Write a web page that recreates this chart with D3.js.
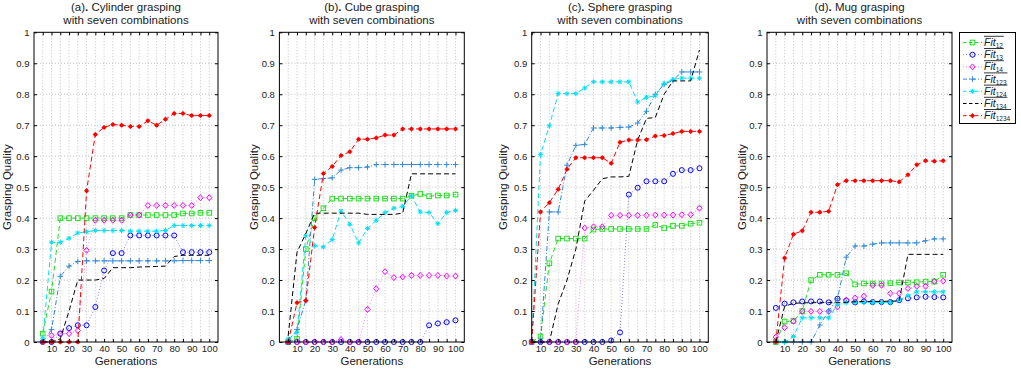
<!DOCTYPE html>
<html>
<head>
<meta charset="utf-8">
<script src="https://cdn.jsdelivr.net/npm/d3@7"></script>
<style>
  body { margin: 0; background: #fff; }
  svg { display: block; }
  text { font-family: "Liberation Sans", Arial, Helvetica, sans-serif; fill: #1a1a1a; }
</style>
</head>
<body>
<div id="chart"></div>
<script>
// generations on the x axis
const generations = [5, 10, 15, 20, 25, 30, 35, 40, 45, 50, 55, 60, 65, 70, 75, 80, 85, 90, 95, 100];
const xTicks = [5, 10, 15, 20, 25, 30, 35, 40, 45, 50, 55, 60, 65, 70, 75, 80, 85, 90, 95, 100];
const xTickLabels = [10, 20, 30, 40, 50, 60, 70, 80, 90, 100];
const yTicks = [0, 0.1, 0.2, 0.3, 0.4, 0.5, 0.6, 0.7, 0.8, 0.9, 1];

const panelLetters = ["(a)", "(b)", "(c)", "(d)"];
const panelObjects = ["Cylinder grasping", "Cube grasping", "Sphere grasping", "Mug grasping"];

const seriesSubs = ["12", "13", "14", "123", "124", "134", "1234"];

// (a) cylinder
const cyl12   = [0.027, 0.163, 0.40, 0.40, 0.40, 0.40, 0.40, 0.40, 0.40, 0.40, 0.41, 0.41, 0.41, 0.41, 0.41, 0.41, 0.415, 0.415, 0.417, 0.417];
const cyl13   = [0, 0, 0.027, 0.045, 0.054, 0.054, 0.113, 0.231, 0.287, 0.287, 0.344, 0.344, 0.344, 0.344, 0.344, 0.344, 0.29, 0.29, 0.29, 0.29];
const cyl14   = [0, 0.021, 0.027, 0.027, 0.037, 0.296, 0.393, 0.393, 0.393, 0.393, 0.41, 0.41, 0.441, 0.441, 0.441, 0.441, 0.441, 0.441, 0.466, 0.466];
const cyl123  = [0, 0.04, 0.212, 0.245, 0.26, 0.262, 0.262, 0.262, 0.262, 0.262, 0.262, 0.262, 0.262, 0.262, 0.262, 0.262, 0.263, 0.263, 0.263, 0.263];
const cyl124  = [0.01, 0.322, 0.322, 0.335, 0.352, 0.356, 0.36, 0.36, 0.36, 0.36, 0.358, 0.358, 0.358, 0.358, 0.36, 0.376, 0.376, 0.376, 0.376, 0.376];
const cyl134  = [0, 0, 0.01, 0.1, 0.2, 0.2, 0.2, 0.205, 0.24, 0.24, 0.24, 0.242, 0.243, 0.244, 0.245, 0.276, 0.28, 0.28, 0.28, 0.28];
const cyl1234 = [0, 0, 0, 0, 0, 0.488, 0.67, 0.693, 0.702, 0.70, 0.696, 0.696, 0.714, 0.70, 0.719, 0.738, 0.738, 0.731, 0.731, 0.731];

// (b) cube
const cube12   = [0, 0.01, 0.3, 0.4, 0.432, 0.463, 0.463, 0.463, 0.463, 0.463, 0.463, 0.463, 0.463, 0.463, 0.472, 0.478, 0.471, 0.473, 0.473, 0.476];
const cube13   = [0, 0, 0, 0, 0, 0, 0, 0, 0, 0, 0, 0, 0, 0, 0, 0, 0.054, 0.06, 0.064, 0.07];
const cube14   = [0, 0, 0, 0, 0, 0, 0.008, 0, 0, 0.105, 0.172, 0.227, 0.208, 0.21, 0.215, 0.215, 0.215, 0.215, 0.213, 0.213];
const cube123  = [0, 0.04, 0.135, 0.525, 0.528, 0.53, 0.555, 0.563, 0.563, 0.565, 0.573, 0.573, 0.573, 0.573, 0.573, 0.573, 0.573, 0.573, 0.573, 0.573];
const cube124  = [0.01, 0.03, 0.343, 0.311, 0.307, 0.331, 0.423, 0.38, 0.32, 0.367, 0.393, 0.418, 0.432, 0.438, 0.472, 0.42, 0.418, 0.382, 0.418, 0.425];
const cube134  = [0.02, 0.29, 0.35, 0.416, 0.416, 0.416, 0.416, 0.416, 0.416, 0.412, 0.412, 0.412, 0.412, 0.416, 0.543, 0.543, 0.543, 0.543, 0.543, 0.543];
const cube1234 = [0, 0.127, 0.133, 0.37, 0.544, 0.567, 0.602, 0.614, 0.655, 0.655, 0.659, 0.668, 0.668, 0.688, 0.688, 0.688, 0.688, 0.688, 0.688, 0.688];

// (c) sphere
const sph12   = [0, 0.018, 0.254, 0.334, 0.334, 0.334, 0.334, 0.363, 0.365, 0.365, 0.365, 0.365, 0.365, 0.365, 0.378, 0.368, 0.375, 0.375, 0.382, 0.385];
const sph13   = [0, 0, 0, 0, 0, 0, 0, 0, 0, 0.005, 0.031, 0.476, 0.498, 0.519, 0.519, 0.519, 0.543, 0.555, 0.555, 0.561];
const sph14   = [0, 0, 0, 0, 0, 0, 0.368, 0.372, 0.372, 0.409, 0.409, 0.409, 0.409, 0.409, 0.41, 0.41, 0.41, 0.411, 0.411, 0.432];
const sph123  = [0, 0, 0.42, 0.42, 0.571, 0.635, 0.638, 0.691, 0.691, 0.691, 0.693, 0.694, 0.707, 0.745, 0.8, 0.832, 0.845, 0.872, 0.872, 0.872];
const sph124  = [0, 0.606, 0.698, 0.802, 0.802, 0.802, 0.82, 0.84, 0.84, 0.84, 0.84, 0.84, 0.775, 0.79, 0.795, 0.835, 0.848, 0.852, 0.852, 0.852];
const sph134  = [0, 0, 0, 0.123, 0.2, 0.3, 0.455, 0.49, 0.527, 0.533, 0.533, 0.535, 0.652, 0.722, 0.725, 0.8, 0.843, 0.843, 0.843, 0.943];
const sph1234 = [0, 0.42, 0.45, 0.493, 0.558, 0.595, 0.595, 0.595, 0.595, 0.577, 0.645, 0.652, 0.652, 0.653, 0.665, 0.667, 0.673, 0.68, 0.68, 0.68];

// (d) mug
const mug12   = [0, 0.066, 0.068, 0.1, 0.2, 0.217, 0.217, 0.217, 0.222, 0.186, 0.189, 0.189, 0.189, 0.19, 0.192, 0.192, 0.193, 0.195, 0.195, 0.217];
const mug13   = [0.11, 0.124, 0.128, 0.131, 0.131, 0.131, 0.128, 0.14, 0.134, 0.128, 0.131, 0.129, 0.129, 0.129, 0.135, 0.141, 0.144, 0.146, 0.145, 0.144];
const mug14   = [0.016, 0.046, 0.067, 0.099, 0.099, 0.099, 0.099, 0.113, 0.135, 0.142, 0.148, 0.183, 0.183, 0.157, 0.157, 0.173, 0.18, 0.18, 0.196, 0.197];
const mug123  = [0, 0, 0, 0, 0, 0.055, 0.1, 0.14, 0.274, 0.31, 0.31, 0.316, 0.32, 0.32, 0.32, 0.32, 0.32, 0.327, 0.333, 0.333];
const mug124  = [0, 0, 0.018, 0.078, 0.078, 0.078, 0.078, 0.12, 0.127, 0.128, 0.128, 0.128, 0.128, 0.128, 0.135, 0.15, 0.162, 0.162, 0.162, 0.162];
const mug134  = [0, 0.115, 0.125, 0.126, 0.127, 0.127, 0.127, 0.127, 0.128, 0.13, 0.131, 0.131, 0.131, 0.132, 0.132, 0.283, 0.283, 0.283, 0.283, 0.283];
const mug1234 = [0, 0.271, 0.348, 0.359, 0.419, 0.419, 0.422, 0.508, 0.521, 0.521, 0.521, 0.521, 0.521, 0.521, 0.517, 0.54, 0.572, 0.585, 0.584, 0.585];

const panelData = [
    [cyl12, cyl13, cyl14, cyl123, cyl124, cyl134, cyl1234],
    [cube12, cube13, cube14, cube123, cube124, cube134, cube1234],
    [sph12, sph13, sph14, sph123, sph124, sph134, sph1234],
    [mug12, mug13, mug14, mug123, mug124, mug134, mug1234]
];

// styling (matlab-ish)
const styles = [
    {color: "#22dd22", dash: "5,3",     marker: "square",  opacity: 1},
    {color: "#0000ff", dash: "1,2",     marker: "circle",  opacity: 0.5},
    {color: "#ff00ff", dash: "1,2",     marker: "diamond", opacity: 0.5},
    {color: "#3388d8", dash: "5,2,1,2", marker: "plus",    opacity: 1},
    {color: "#00e0f0", dash: "5,3",     marker: "star",    opacity: 1},
    {color: "#000000", dash: "5,3",     marker: "none",    opacity: 1},
    {color: "#ff0000", dash: "5,3",     marker: "dot",     opacity: 1}
];

const W = 1021, H = 371;
const plotTop = 32.3, plotBottom = 342;
const layout = [
    {left: 34,    right: 218,   x0: 0, ylab: 11},
    {left: 279.4, right: 464.3, x0: 0, ylab: 257.5},
    {left: 531.7, right: 708.3, x0: 5, ylab: 506.5},
    {left: 767,   right: 952,   x0: 0, ylab: 746}
];

const svg = d3.select("#chart").append("svg")
    .attr("width", W)
    .attr("height", H);

function drawMarker(g, type, x, y, color) {
    if (type === "square") {
        g.append("rect").attr("x", x - 2.3).attr("y", y - 2.3).attr("width", 4.6).attr("height", 4.6)
            .attr("fill", "none").attr("stroke", color).attr("stroke-width", 1);
    } else if (type === "circle") {
        g.append("circle").attr("cx", x).attr("cy", y).attr("r", 2.5)
            .attr("fill", "none").attr("stroke", color).attr("stroke-width", 1);
    } else if (type === "diamond") {
        g.append("path").attr("d", `M${x},${y - 3}L${x + 2.6},${y}L${x},${y + 3}L${x - 2.6},${y}Z`)
            .attr("fill", "none").attr("stroke", color).attr("stroke-width", 1);
    } else if (type === "plus") {
        g.append("path").attr("d", `M${x - 2.8},${y}H${x + 2.8}M${x},${y - 2.8}V${y + 2.8}`)
            .attr("stroke", color).attr("stroke-width", 1);
    } else if (type === "star") {
        g.append("path").attr("d", `M${x - 2.5},${y}H${x + 2.5}M${x},${y - 2.5}V${y + 2.5}M${x - 1.8},${y - 1.8}L${x + 1.8},${y + 1.8}M${x - 1.8},${y + 1.8}L${x + 1.8},${y - 1.8}`)
            .attr("stroke", color).attr("stroke-width", 1);
    } else if (type === "dot") {
        g.append("circle").attr("cx", x).attr("cy", y).attr("r", 2).attr("fill", color);
        g.append("path").attr("d", `M${x - 2.5},${y}H${x + 2.5}M${x},${y - 2.5}V${y + 2.5}`)
            .attr("stroke", color).attr("stroke-width", 0.7);
    }
}

layout.forEach((p, pi) => {
    let xScale = d3.scaleLinear().domain([p.x0, 105]).range([p.left, p.right]);
    let yScale = d3.scaleLinear().domain([0, 1]).range([plotBottom, plotTop]);
    let g = svg.append("g");

    // Grid (dotted)
    g.selectAll(".vgrid").data(xTicks.filter(d => d > p.x0)).enter().append("line")
        .attr("x1", d => xScale(d)).attr("x2", d => xScale(d))
        .attr("y1", plotTop).attr("y2", plotBottom)
        .attr("stroke", "#a8a8a8").attr("stroke-width", 0.7).attr("stroke-dasharray", "1,2");
    g.selectAll(".hgrid").data(yTicks.slice(1, -1)).enter().append("line")
        .attr("x1", p.left).attr("x2", p.right)
        .attr("y1", d => yScale(d)).attr("y2", d => yScale(d))
        .attr("stroke", "#a8a8a8").attr("stroke-width", 0.7).attr("stroke-dasharray", "1,2");

    // Series
    panelData[pi].forEach((values, si) => {
        let st = styles[si];
        let pts = generations.map((gen, i) => [gen, values[i]]);
        let line = d3.line().x(d => xScale(d[0])).y(d => yScale(d[1]));
        g.append("path")
            .datum(pts)
            .attr("d", line)
            .attr("fill", "none")
            .attr("stroke", st.color)
            .attr("stroke-opacity", st.opacity)
            .attr("stroke-width", 1)
            .attr("stroke-dasharray", st.dash);
        let mg = g.append("g");
        pts.forEach(d => drawMarker(mg, st.marker, xScale(d[0]), yScale(d[1]), st.color));
    });

    // Box and inward ticks
    g.append("rect")
        .attr("x", p.left).attr("y", plotTop)
        .attr("width", p.right - p.left).attr("height", plotBottom - plotTop)
        .attr("fill", "none").attr("stroke", "#000").attr("stroke-width", 1);

    let axL = d3.axisLeft(yScale).tickValues(yTicks).tickSize(-3).tickPadding(4.5)
        .tickFormat(d => d === 0 ? "0" : d === 1 ? "1" : d3.format(".1f")(d));
    let axR = d3.axisRight(yScale).tickValues(yTicks).tickSize(-3).tickFormat("");
    let axB = d3.axisBottom(xScale).tickValues(xTicks).tickSize(-3).tickPadding(3)
        .tickFormat(d => xTickLabels.includes(d) ? d : "");
    let axT = d3.axisTop(xScale).tickValues(xTicks).tickSize(-3).tickFormat("");

    [[axL, `translate(${p.left},0)`], [axR, `translate(${p.right},0)`],
     [axB, `translate(0,${plotBottom})`], [axT, `translate(0,${plotTop})`]].forEach(([ax, tr]) => {
        let a = g.append("g").attr("transform", tr).call(ax);
        a.select(".domain").remove();
        a.selectAll(".tick line").attr("stroke", "#000");
        a.selectAll(".tick text").attr("font-size", 9.5)
            .attr("font-family", '"Liberation Sans", Arial, sans-serif').attr("fill", "#1a1a1a");
    });

    // Titles
    let cx = (p.left + p.right) / 2;
    let t1 = g.append("text").attr("x", cx).attr("y", 10.5).attr("text-anchor", "middle").attr("font-size", 11.5);
    t1.append("tspan").text(panelLetters[pi]);
    t1.append("tspan").attr("font-weight", "bold").text(".");
    t1.append("tspan").text(" " + panelObjects[pi]);
    g.append("text").attr("x", cx).attr("y", 24).attr("text-anchor", "middle").attr("font-size", 11.5)
        .text("with seven combinations");

    // Axis labels
    g.append("text").attr("x", cx).attr("y", 364.5).attr("text-anchor", "middle").attr("font-size", 11.5)
        .text("Generations");
    g.append("text")
        .attr("transform", `translate(${p.ylab},${(plotTop + plotBottom) / 2}) rotate(-90)`)
        .attr("text-anchor", "middle").attr("font-size", 11.5)
        .text("Grasping Quality");
});

// Legend
let lg = svg.append("g");
lg.append("rect").attr("x", 959.5).attr("y", 32.5).attr("width", 56).attr("height", 91)
    .attr("fill", "#fff").attr("stroke", "#000").attr("stroke-width", 1);
seriesSubs.forEach((sub, i) => {
    let st = styles[i];
    let y = 42.5 + i * 12.2;
    lg.append("line").attr("x1", 963).attr("x2", 982).attr("y1", y).attr("y2", y)
        .attr("stroke", st.color).attr("stroke-opacity", st.opacity).attr("stroke-width", 1)
        .attr("stroke-dasharray", st.dash === "1,2" ? "1,2" : st.dash === "5,2,1,2" ? "4,2,1,2" : "3.5,2.5");
    drawMarker(lg, st.marker, 972.5, y, st.color);
    let t = lg.append("text").attr("x", 984).attr("y", y + 3.5)
        .attr("font-family", '"DejaVu Serif", "Liberation Serif", serif')
        .attr("font-style", "italic").attr("font-size", 10.5);
    t.append("tspan").text("Fit");
    t.append("tspan").attr("font-size", 6.5).attr("dy", 2).attr("font-style", "normal").text(sub);
    let bb = t.node().getBBox();
    lg.append("line").attr("x1", 984).attr("x2", Math.min(bb.x + bb.width + 0.5, 1014))
        .attr("y1", y - 6.2).attr("y2", y - 6.2).attr("stroke", "#000").attr("stroke-width", 0.8);
});
</script>
</body>
</html>
